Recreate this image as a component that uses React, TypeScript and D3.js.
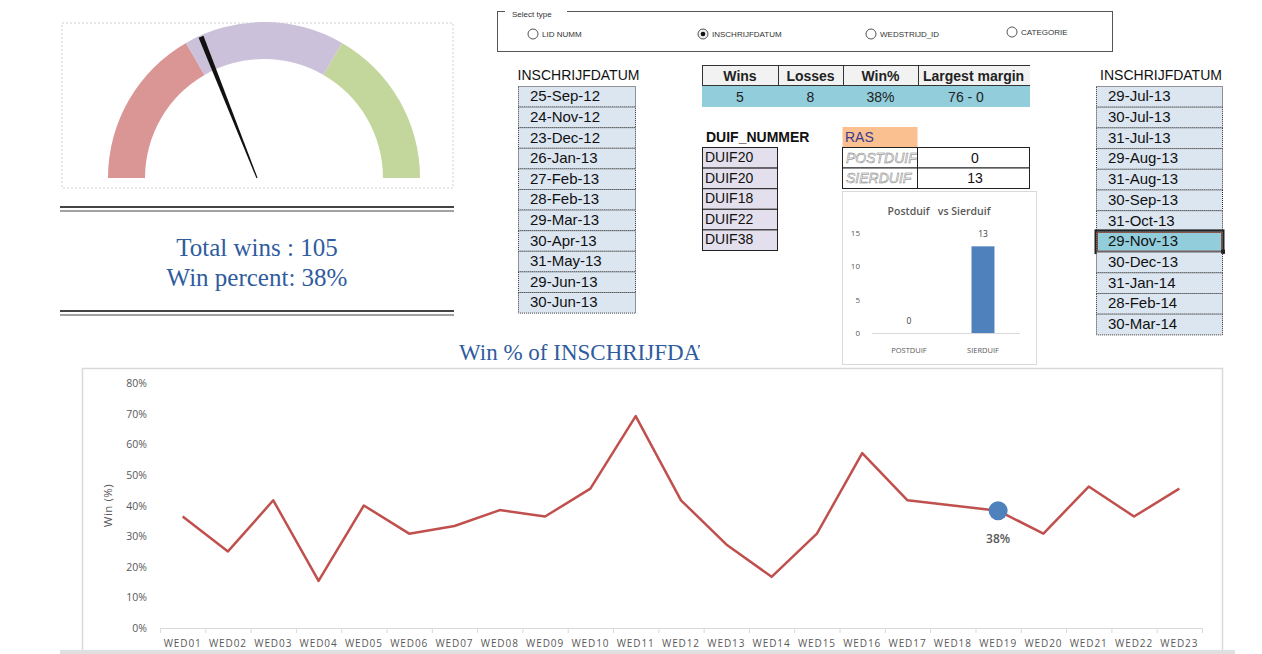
import React from 'react';
import * as d3 from 'd3';

// data
const weeks = ['WED01', 'WED02', 'WED03', 'WED04', 'WED05', 'WED06', 'WED07', 'WED08', 'WED09', 'WED10', 'WED11', 'WED12',
  'WED13', 'WED14', 'WED15', 'WED16', 'WED17', 'WED18', 'WED19', 'WED20', 'WED21', 'WED22', 'WED23'];
const winPct = [36.4, 25, 41.7, 15.4, 40, 30.8, 33.3, 38.5, 36.4, 45.5, 69.2, 41.7, 27.3, 16.7, 30.8, 57.1, 41.7, 40, 38.3, 30.8, 46.2, 36.4, 45.5];
const selectedWeek = 'WED19';
const yTicks = [0, 10, 20, 30, 40, 50, 60, 70, 80];

const leftDates = ['25-Sep-12', '24-Nov-12', '23-Dec-12', '26-Jan-13', '27-Feb-13', '28-Feb-13', '29-Mar-13', '30-Apr-13', '31-May-13', '29-Jun-13', '30-Jun-13'];
const rightDates = ['29-Jul-13', '30-Jul-13', '31-Jul-13', '29-Aug-13', '31-Aug-13', '30-Sep-13', '31-Oct-13', '29-Nov-13', '30-Dec-13', '31-Jan-14', '28-Feb-14', '30-Mar-14'];
const selectedDate = '29-Nov-13';

const radioOptions = ['LID NUMM', 'INSCHRIJFDATUM', 'WEDSTRIJD_ID', 'CATEGORIE'];
const selectedOption = 'INSCHRIJFDATUM';

const statHeaders = ['Wins', 'Losses', 'Win%', 'Largest margin'];
const statValues = ['5', '8', '38%', '76 - 0'];

const duifNummers = ['DUIF20', 'DUIF20', 'DUIF18', 'DUIF22', 'DUIF38'];
const rasTypes = ['POSTDUIF', 'SIERDUIF'];
const rasCounts = [0, 13];
const rasTicks = [0, 5, 10, 15];

const gaugeBands = [
  { from: 0, to: 1 / 3, color: '#d99694' },
  { from: 1 / 3, to: 2 / 3, color: '#ccc1da' },
  { from: 2 / 3, to: 1, color: '#c3d69b' },
];
const totalWins = 105;
const winPercent = 38;

const tableFont = '"Liberation Sans", Arial, sans-serif';
const chartFont = '"Open Sans", "DejaVu Sans", sans-serif';
const serif = '"Liberation Serif", "DejaVu Serif", serif';

function Gauge() {
  const cx = 264, cy = 178;
  const gaugeAngle = d3.scaleLinear().domain([0, 1]).range([-Math.PI / 2, Math.PI / 2]);
  const arc = d3.arc<any>().innerRadius(119).outerRadius(156);
  const a = gaugeAngle(winPercent / 100);
  const px = 257, py = 178, len = 152;
  const tx = px + len * Math.sin(a), ty = py - len * Math.cos(a);
  const nx = Math.cos(a), ny = Math.sin(a);
  const needle = `M${px - nx * 0.6},${py - ny * 0.6} L${tx - nx * 2.6},${ty - ny * 2.6} L${tx + nx * 2.6},${ty + ny * 2.6} L${px + nx * 0.6},${py + ny * 0.6} Z`;
  return (
    <g>
      <rect x={62} y={23} width={391} height={165} fill="none" stroke="#d0d0d0" strokeDasharray="2,2" />
      <g transform={`translate(${cx},${cy})`}>
        {gaugeBands.map((b, i) => (
          <path key={i} d={arc({ startAngle: gaugeAngle(b.from), endAngle: gaugeAngle(b.to) }) as string} fill={b.color} />
        ))}
      </g>
      <path d={needle} fill="#111" />
      <line x1={60} x2={454} y1={207} y2={207} stroke="#444" strokeWidth={2} />
      <line x1={60} x2={454} y1={211} y2={211} stroke="#444" strokeWidth={1} />
      <text x={257} y={256} textAnchor="middle" fontFamily={serif} fontSize={25} fill="#2f5c9e">{`Total wins : ${totalWins}`}</text>
      <text x={257} y={286} textAnchor="middle" fontFamily={serif} fontSize={25} fill="#2f5c9e">{`Win percent: ${winPercent}%`}</text>
      <line x1={60} x2={454} y1={311} y2={311} stroke="#444" strokeWidth={2} />
      <line x1={60} x2={454} y1={315} y2={315} stroke="#444" strokeWidth={1} />
    </g>
  );
}

function RadioGroup() {
  const xs = [533, 703, 871, 1012];
  return (
    <g fontFamily={tableFont}>
      <rect x={497.5} y={11.5} width={615} height={40} fill="none" stroke="#555" />
      <rect x={505} y={8} width={62} height={8} fill="#fff" />
      <text x={512} y={17} fontSize={8} fill="#333">Select type</text>
      {radioOptions.map((o, i) => {
        const cy = i === 3 ? 32 : 34;
        return (
          <g key={o}>
            <circle cx={xs[i]} cy={cy} r={5} fill={o === selectedOption ? '#eee' : '#fff'} stroke="#555" />
            {o === selectedOption && <circle cx={xs[i]} cy={cy} r={2.3} fill="#111" />}
            <text x={xs[i] + 9} y={cy + 3} fontSize={8} fill="#333">{o}</text>
          </g>
        );
      })}
    </g>
  );
}

function DateList({ x, w, y0, rowH, dates, selected }: { x: number; w: number; y0: number; rowH: number; dates: string[]; selected?: string }) {
  return (
    <g fontFamily={tableFont}>
      <text x={x + w / 2 + 2} y={y0 - 6} textAnchor="middle" fontSize={14} fill="#111">INSCHRIJFDATUM</text>
      {dates.map((d, i) => {
        const sel = d === selected;
        const y = y0 + i * rowH;
        return (
          <g key={d}>
            <rect x={x + 0.5} y={y + 0.5} width={w} height={rowH} fill={sel ? '#92cddc' : '#dce6f1'} stroke="#333" strokeDasharray="1,1" />
            {sel && <rect x={x - 0.5} y={y - 0.5} width={w + 2} height={rowH + 2} fill="none" stroke="#222" strokeWidth={2} />}
            {sel && <rect x={x + 1.5} y={y + 1.5} width={w - 2} height={rowH - 2} fill="none" stroke="#8b4a3c" strokeWidth={1} />}
            <text x={x + 12} y={y + rowH / 2 + 5} fontSize={15} fill="#111">{d}</text>
          </g>
        );
      })}
      {selected && (() => {
        const i = dates.indexOf(selected);
        return <rect x={x + w - 1} y={y0 + (i + 1) * rowH - 2} width={4} height={4} fill="#222" />;
      })()}
    </g>
  );
}

function StatsTable() {
  const cols = [702, 778, 843, 918, 1030];
  return (
    <g fontFamily={tableFont}>
      <defs>
        <clipPath id="statclip"><rect x={700} y={60} width={330} height={50} /></clipPath>
      </defs>
      <g clipPath="url(#statclip)">
        <rect x={702} y={65.5} width={328} height={20} fill="#f2f2f2" />
        <rect x={702} y={86} width={328} height={21} fill="#92cddc" />
        {statHeaders.map((h, i) => (
          <g key={h}>
            <rect x={cols[i] + 0.5} y={65.5} width={cols[i + 1] - cols[i]} height={20} fill="none" stroke="#333" />
            <text x={i === 3 ? cols[i] + 5 : (cols[i] + cols[i + 1]) / 2} y={81} textAnchor={i === 3 ? 'start' : 'middle'} fontSize={14} fontWeight="bold" fill="#222">{h}</text>
            <text x={(cols[i] + cols[i + 1]) / 2 + (i === 3 ? -8 : 0)} y={102} textAnchor="middle" fontSize={14} fill="#222">{statValues[i]}</text>
          </g>
        ))}
      </g>
    </g>
  );
}

function DuifTable() {
  const rowH = 20.6;
  return (
    <g fontFamily={tableFont}>
      <text x={706} y={142} fontSize={14} fontWeight="bold" fill="#111">DUIF_NUMMER</text>
      {duifNummers.map((d, i) => (
        <g key={i}>
          <rect x={702.5} y={147.5 + i * rowH} width={75} height={rowH} fill="#e4dfec" stroke="#222" />
          <text x={705} y={147 + i * rowH + 15} fontSize={14} fill="#111">{d}</text>
        </g>
      ))}
    </g>
  );
}

function RasTable() {
  const rowH = 20.5;
  return (
    <g fontFamily={tableFont}>
      <rect x={842.5} y={127} width={75} height={20} fill="#fac090" />
      <text x={845} y={142} fontSize={14} fill="#3b3b8f">RAS</text>
      <defs>
        <clipPath id="rasclip"><rect x={843} y={140} width={74} height={60} /></clipPath>
      </defs>
      {rasTypes.map((t, i) => {
        const y = 147.5 + i * rowH;
        return (
          <g key={t}>
            <rect x={842.5} y={y} width={75} height={rowH} fill="#fff" stroke="#222" />
            <rect x={917.5} y={y} width={112} height={rowH} fill="#fff" stroke="#222" />
            <text x={846} y={y + 15} fontSize={14} fontStyle="italic" fill="#fff" stroke="#777" strokeWidth={0.5} clipPath="url(#rasclip)">{t}</text>
            <text x={975} y={y + 15} textAnchor="middle" fontSize={14} fill="#111">{rasCounts[i]}</text>
          </g>
        );
      })}
    </g>
  );
}

function RasChart() {
  const x = d3.scaleBand().domain(rasTypes).range([872, 1020]).paddingInner(0.69).paddingOuter(0.345);
  const y = d3.scaleLinear().domain([0, 15]).range([333, 233]);
  return (
    <g fontFamily={chartFont}>
      <rect x={842.5} y={191.5} width={194} height={173} fill="#fff" stroke="#d9d9d9" />
      <text x={939} y={215} textAnchor="middle" fontSize={10.5} fontWeight="600" fill="#595959" style={{ whiteSpace: 'pre' }}>Postduif   vs Sierduif</text>
      {rasTicks.map(t => (
        <text key={t} x={860} y={y(t) + 3} textAnchor="end" fontSize={8} fill="#595959">{t}</text>
      ))}
      <line x1={872} x2={1020} y1={y(0) + 0.5} y2={y(0) + 0.5} stroke="#d9d9d9" />
      {rasTypes.map((t, i) => (
        <g key={t}>
          <rect x={x(t)} y={y(rasCounts[i])} width={x.bandwidth()} height={y(0) - y(rasCounts[i])} fill="#4f81bd" />
          <text x={x(t)! + x.bandwidth() / 2} y={y(rasCounts[i]) - 9} textAnchor="middle" fontSize={8.5} fill="#404040">{rasCounts[i]}</text>
          <text x={x(t)! + x.bandwidth() / 2} y={353} textAnchor="middle" fontSize={7.5} fill="#595959">{t}</text>
        </g>
      ))}
    </g>
  );
}

function LineChart() {
  const x = d3.scaleBand().domain(weeks).range([160, 1202]);
  const y = d3.scaleLinear().domain([0, 80]).range([628, 383]);
  const line = d3.line<number>().x((_, i) => x(weeks[i])! + x.bandwidth() / 2).y(d => y(d));
  const si = weeks.indexOf(selectedWeek);
  const sx = x(selectedWeek)! + x.bandwidth() / 2;
  const sy = y(winPct[si]);
  return (
    <g fontFamily={chartFont}>
      <defs>
        <clipPath id="titleclip"><rect x={440} y={330} width={260} height={40} /></clipPath>
      </defs>
      <text x={459} y={360} fontFamily={serif} fontSize={23} fill="#2f5c9e" clipPath="url(#titleclip)">Win % of INSCHRIJFDATUM</text>
      <rect x={82.5} y={368.5} width={1140} height={290} fill="none" stroke="#d9d9d9" strokeWidth={1.5} />
      {yTicks.map(t => (
        <text key={t} x={147} y={y(t) + 4} textAnchor="end" fontSize={10.5} fill="#595959">{`${t}%`}</text>
      ))}
      <text transform={`translate(112,${y(40)}) rotate(-90)`} textAnchor="middle" fontSize={11.5} letterSpacing={0.5} fill="#595959">Win (%)</text>
      <line x1={160} x2={1202} y1={628.5} y2={628.5} stroke="#d9d9d9" />
      {weeks.map(w => (
        <line key={w} x1={x(w)! + 0.5} x2={x(w)! + 0.5} y1={628} y2={633} stroke="#d9d9d9" />
      ))}
      <line x1={1202.5} x2={1202.5} y1={628} y2={633} stroke="#d9d9d9" />
      {weeks.map(w => (
        <text key={w} x={x(w)! + x.bandwidth() / 2} y={647} textAnchor="middle" fontSize={10} letterSpacing={0.9} fill="#595959">{w}</text>
      ))}
      <path d={line(winPct) as string} fill="none" stroke="#c0504d" strokeWidth={2.5} strokeLinejoin="round" />
      <circle cx={sx} cy={sy} r={9.5} fill="#4f81bd" />
      <text x={sx} y={sy + 32} textAnchor="middle" fontSize={12} fontWeight="600" fill="#595959">{`${Math.round(winPct[si])}%`}</text>
      <rect x={60} y={650} width={1175} height={4} fill="#e0e0e0" />
    </g>
  );
}

export default function App() {
  return (
    <svg width={1262} height={654} style={{ position: 'absolute', left: 0, top: 0, background: '#fff' }}>
      <rect width={1262} height={654} fill="#fff" />
      <Gauge />
      <RadioGroup />
      <DateList x={518} w={117} y0={86} rowH={20.6} dates={leftDates} />
      <DateList x={1096} w={126} y0={86} rowH={20.7} dates={rightDates} selected={selectedDate} />
      <StatsTable />
      <DuifTable />
      <RasTable />
      <RasChart />
      <LineChart />
    </svg>
  );
}
